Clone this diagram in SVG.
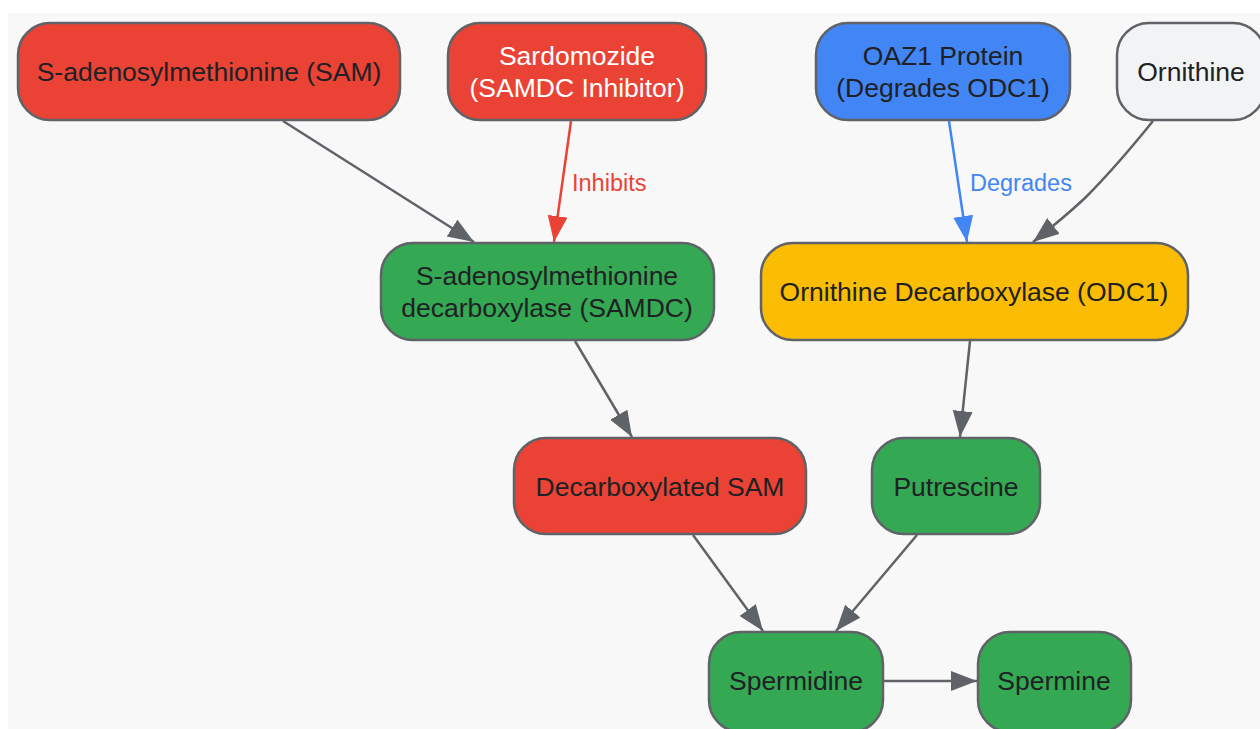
<svg xmlns="http://www.w3.org/2000/svg" width="1260" height="729" viewBox="0 0 1260 729">
<style>
.n rect{stroke:#5f6368;stroke-width:2.5}
.n text{font-family:"Liberation Sans",Arial,sans-serif;font-size:26.5px;fill:#202124;text-anchor:middle;dominant-baseline:central}
.n text.w{fill:#ffffff}
.red{fill:#ea4335}.green{fill:#34a853}.blue{fill:#4285f4}.yellow{fill:#fbbc04}.grey{fill:#f1f3f4}
.e{fill:none;stroke:#5f6368;stroke-width:2.5}
.lbl{font-family:"Liberation Sans",Arial,sans-serif;font-size:23.5px;dominant-baseline:central}
</style>
<defs>
<marker id="ag" markerUnits="userSpaceOnUse" markerWidth="28" markerHeight="22" refX="26" refY="10" orient="auto"><path d="M0,0 L26,10 L0,20 Z" fill="#5f6368"/></marker>
<marker id="ar" markerUnits="userSpaceOnUse" markerWidth="28" markerHeight="22" refX="26" refY="10" orient="auto"><path d="M0,0 L26,10 L0,20 Z" fill="#ea4335"/></marker>
<marker id="ab" markerUnits="userSpaceOnUse" markerWidth="28" markerHeight="22" refX="26" refY="10" orient="auto"><path d="M0,0 L26,10 L0,20 Z" fill="#4285f4"/></marker>
</defs>
<rect x="0" y="0" width="1260" height="729" fill="#ffffff"/>
<rect x="8" y="13" width="1252" height="716" fill="#f8f8f8"/>
<g id="connectors">
<path class="e" d="M283,121 L474,242" marker-end="url(#ag)"/>
<path class="e" d="M571,121 L554,242" style="stroke:#ea4335" marker-end="url(#ar)"/>
<text class="lbl" x="572" y="183" fill="#ea4335">Inhibits</text>
<path class="e" d="M949,121 L967,242" style="stroke:#4285f4" marker-end="url(#ab)"/>
<text class="lbl" x="970" y="183" fill="#4285f4">Degrades</text>
<path class="e" d="M1153,121 C1128,152 1105,178 1085,198 C1068,214 1052,227 1033,242" marker-end="url(#ag)"/>
<path class="e" d="M575,341 L632,437" marker-end="url(#ag)"/>
<path class="e" d="M970,341 L960,437" marker-end="url(#ag)"/>
<path class="e" d="M693,535 L763,631" marker-end="url(#ag)"/>
<path class="e" d="M917,535 L836,631" marker-end="url(#ag)"/>
<path class="e" d="M884,681 L977,681" marker-end="url(#ag)"/>
</g>
<g id="sam" class="n"><rect class="red" x="18" y="23" width="382" height="97" rx="32"/><text x="209" y="72">S-adenosylmethionine (SAM)</text></g>
<g id="sardomozide" class="n"><rect class="red" x="448" y="23" width="258" height="97" rx="32"/><text class="w" x="577" y="56">Sardomozide</text><text class="w" x="577" y="88">(SAMDC Inhibitor)</text></g>
<g id="oaz1" class="n"><rect class="blue" x="816" y="23" width="254" height="97" rx="32"/><text x="943" y="56">OAZ1 Protein</text><text x="943" y="88">(Degrades ODC1)</text></g>
<g id="ornithine" class="n"><rect class="grey" x="1117" y="23" width="148" height="97" rx="32"/><text x="1191" y="72">Ornithine</text></g>
<g id="samdc" class="n"><rect class="green" x="381" y="243" width="333" height="97" rx="32"/><text x="547" y="276">S-adenosylmethionine</text><text x="547" y="308">decarboxylase (SAMDC)</text></g>
<g id="odc1" class="n"><rect class="yellow" x="761" y="243" width="427" height="97" rx="32"/><text x="974" y="292">Ornithine Decarboxylase (ODC1)</text></g>
<g id="dcsam" class="n"><rect class="red" x="514" y="438" width="292" height="96" rx="32"/><text x="660" y="487">Decarboxylated SAM</text></g>
<g id="putrescine" class="n"><rect class="green" x="872" y="438" width="168" height="96" rx="32"/><text x="956" y="487">Putrescine</text></g>
<g id="spermidine" class="n"><rect class="green" x="709" y="632" width="174" height="100" rx="32"/><text x="796" y="681">Spermidine</text></g>
<g id="spermine" class="n"><rect class="green" x="978" y="632" width="153" height="100" rx="32"/><text x="1054" y="681">Spermine</text></g>
</svg>
